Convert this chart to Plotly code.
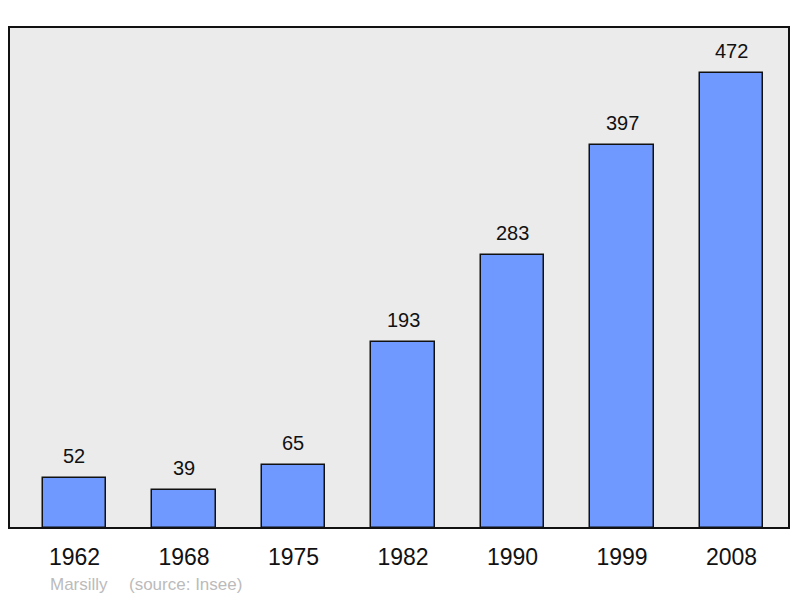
import plotly.graph_objects as go

years = ["1962", "1968", "1975", "1982", "1990", "1999", "2008"]
population = [52, 39, 65, 193, 283, 397, 472]
commune = "Marsilly"
source = "(source: Insee)"

xs = list(range(len(years)))

fig = go.Figure()
fig.add_trace(go.Bar(
    x=xs, y=population, width=0.58,
    marker=dict(color="#7099ff", line=dict(color="#111111", width=1.5)),
    hoverinfo="skip",
))

for x, v in zip(xs, population):
    fig.add_annotation(x=x, y=v, text=str(v), showarrow=False, yanchor="bottom",
                       yshift=9, font=dict(size=20, color="#111111"))

fy = -(584 - 528) / 501
fig.add_annotation(xref="paper", yref="paper", x=(48 - 9) / 780, y=fy,
                   text=commune, showarrow=False, xanchor="left", yanchor="middle",
                   font=dict(size=17, color="#bbbbbb"))
fig.add_annotation(xref="paper", yref="paper", x=(127 - 9) / 780, y=fy,
                   text=source, showarrow=False, xanchor="left", yanchor="middle",
                   font=dict(size=17, color="#bbbbbb"))

fig.add_shape(type="rect", xref="paper", yref="paper", x0=0, y0=0, x1=1, y1=1,
              line=dict(color="#111111", width=2), layer="above")

fig.update_layout(
    width=800, height=598,
    margin=dict(l=9, r=11, t=27, b=70),
    paper_bgcolor="white", plot_bgcolor="#ebebeb",
    font=dict(family="Liberation Sans, Arial, sans-serif", color="#111111"),
    showlegend=False,
    xaxis=dict(range=[-0.598, 6.525], tickvals=xs, ticktext=years,
               showgrid=False, zeroline=False, ticks="outside", ticklen=8,
               tickcolor="rgba(0,0,0,0)", tickfont=dict(size=23, color="#111111")),
    yaxis=dict(range=[0, 519.7], showgrid=False, zeroline=False,
               showticklabels=False, ticks=""),
    bargap=0,
)

fig.write_html("out.html", config={"displayModeBar": False},
               post_script="document.body.style.margin='0';document.body.style.overflow='hidden';")
